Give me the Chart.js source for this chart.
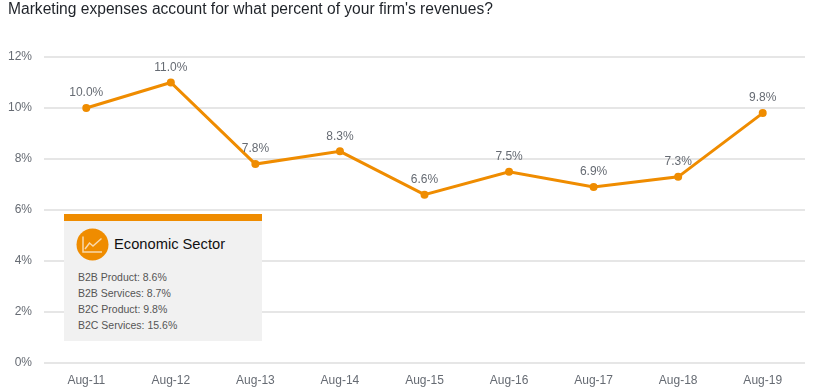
<!DOCTYPE html>
<html>
<head>
<meta charset="utf-8">
<script src="https://cdn.jsdelivr.net/npm/chart.js@4"></script>
<style>
  html, body { margin: 0; padding: 0; background: #fff; }
  body { width: 825px; height: 392px; position: relative; overflow: hidden; font-family: "Liberation Sans", sans-serif; }
  #chart-wrap { position: absolute; left: 0; top: 0; width: 825px; height: 392px; }
  .title { position: absolute; left: 8px; top: -1px; font-size: 15.6px; line-height: 20px; color: #1f2329; white-space: nowrap; }
  .panel { position: absolute; left: 64px; top: 214px; width: 198px; height: 127px; background: #f1f1f1; border-top: 7px solid #ef8c00; box-sizing: border-box; }
  .panel svg { position: absolute; left: 12px; top: 7px; }
  .panel .head { position: absolute; left: 50px; top: 13px; font-size: 14.7px; line-height: 20px; color: #111; white-space: nowrap; }
  .panel ul { position: absolute; left: 14px; top: 48px; margin: 0; padding: 0; list-style: none; font-size: 10.5px; line-height: 16px; color: #555; white-space: nowrap; }
</style>
</head>
<body>
<div id="chart-wrap"><canvas id="myChart" width="825" height="392"></canvas></div>
<div class="title">Marketing expenses account for what percent of your firm's revenues?</div>
<div class="panel">
  <svg width="33" height="33" viewBox="0 0 33 33">
    <circle cx="16.5" cy="16.5" r="16" fill="#ef8c00"/>
    <path d="M7 8.5V24H26" fill="none" stroke="#f9d9ac" stroke-width="1.5"/>
    <path d="M9 21L13.5 15L17 18L25.5 10.5" fill="none" stroke="#f9d9ac" stroke-width="1.5"/>
  </svg>
  <div class="head">Economic Sector</div>
  <ul id="sector-list"></ul>
</div>
<script>
const categories = ["Aug-11", "Aug-12", "Aug-13", "Aug-14", "Aug-15", "Aug-16", "Aug-17", "Aug-18", "Aug-19"];
const values = [10.0, 11.0, 7.8, 8.3, 6.6, 7.5, 6.9, 7.3, 9.8];
const sectorNames = ["B2B Product", "B2B Services", "B2C Product", "B2C Services"];
const sectorValues = [8.6, 8.7, 9.8, 15.6];

const orange = "#ef8c00";
const fontFamily = '"Liberation Sans", sans-serif';

document.getElementById("sector-list").innerHTML = sectorNames
  .map((name, i) => `<li>${name}: ${sectorValues[i].toFixed(1)}%</li>`)
  .join("");

// no datalabels plugin available, so the value labels are drawn here
const valueLabels = {
  id: "valueLabels",
  afterDatasetsDraw(chart) {
    const ctx = chart.ctx;
    ctx.save();
    ctx.font = "12px " + fontFamily;
    ctx.fillStyle = "#666b73";
    ctx.textAlign = "center";
    ctx.textBaseline = "middle";
    chart.getDatasetMeta(0).data.forEach((pt, i) => {
      ctx.fillText(values[i].toFixed(1) + "%", pt.x, pt.y - 15);
    });
    ctx.restore();
  },
};

new Chart(document.getElementById("myChart").getContext("2d"), {
  type: "line",
  data: {
    labels: categories,
    datasets: [
      {
        data: values,
        borderColor: orange,
        borderWidth: 3,
        backgroundColor: orange,
        pointRadius: 4,
        pointBackgroundColor: orange,
        pointBorderWidth: 0,
        tension: 0,
      },
    ],
  },
  options: {
    responsive: false,
    animation: false,
    layout: { padding: { top: 57, right: 20, left: 0, bottom: 0 } },
    plugins: { legend: { display: false }, tooltip: { enabled: false } },
    scales: {
      x: {
        offset: true,
        grid: { display: false },
        border: { display: false },
        ticks: { color: "#666b73", font: { size: 12, family: fontFamily }, padding: 2, maxRotation: 0 },
        afterFit(scale) {
          scale.height = 29;
        },
      },
      y: {
        min: 0,
        max: 12,
        grid: { color: "#e6e6e6", lineWidth: 2, drawTicks: false },
        border: { display: false },
        ticks: {
          stepSize: 2,
          color: "#666b73",
          font: { size: 12, family: fontFamily },
          padding: 12,
          callback: (v) => v + "%",
        },
        afterFit(scale) {
          scale.width = 44;
        },
      },
    },
  },
  plugins: [valueLabels],
});
</script>
</body>
</html>
